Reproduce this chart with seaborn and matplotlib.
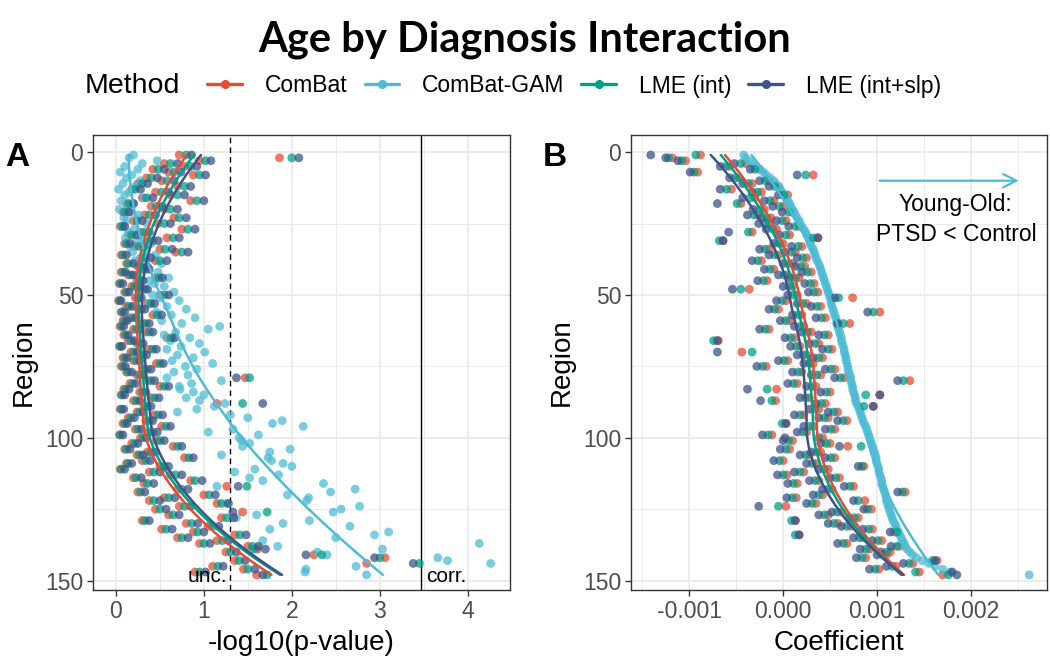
import numpy as np
import pandas as pd
import seaborn as sns
import matplotlib.pyplot as plt
from matplotlib.lines import Line2D

methods = ["ComBat", "ComBat-GAM", "LME (int)", "LME (int+slp)"]
colors = ["#E64B35", "#4DBBD5", "#00A087", "#3C5488"]
palette = dict(zip(methods, colors))
region = np.arange(1, 149)

# panel A: -log10(p-value) per region
combat_p = [0.72, 1.86, 0.95, 0.55, 0.78, 0.42, 0.60, 0.88, 0.35, 0.52,
            0.25, 0.70, 0.18, 0.45, 0.62, 0.30, 0.85, 0.12, 0.40, 0.55,
            0.08, 0.33, 0.66, 0.20, 0.48, 0.05, 0.75, 0.28, 0.15, 0.58,
            0.38, 0.10, 0.22, 0.50, 0.68, 0.06, 0.30, 0.45, 0.12, 0.25,
            0.30, 0.06, 0.14, 0.45, 0.24, 0.04, 0.18, 0.28, 0.10, 0.50,
            0.22, 0.03, 0.36, 0.12, 0.26, 0.06, 0.42, 0.16, 0.08, 0.30,
            0.05, 0.20, 0.34, 0.09, 0.58, 0.14, 0.24, 0.04, 0.38, 0.17,
            0.28, 0.08, 0.20, 0.46, 0.06, 0.32, 0.12, 0.24, 1.47, 0.36,
            0.16, 0.50, 0.09, 0.27, 0.06, 0.40, 0.20, 1.15, 0.32, 0.05,
            0.24, 0.44, 0.14, 0.34, 0.08, 0.52, 0.22, 0.38, 0.04, 0.28,
            0.46, 0.18, 0.65, 0.10, 0.36, 0.24, 0.78, 0.30, 0.12, 0.50,
            0.05, 0.38, 0.62, 0.20, 0.85, 0.32, 1.26, 0.70, 0.25, 1.00,
            0.55, 0.38, 1.15, 0.72, 0.45, 1.44, 0.60, 1.20, 0.30, 0.80,
            1.05, 0.52, 0.88, 1.35, 0.70, 1.15, 0.95, 1.50, 1.61, 1.25,
            2.25, 3.06, 1.35, 2.85, 1.10, 1.45, 0.90, 1.60]
gam_p = [0.20, 0.15, 0.47, 0.30, 0.10, 0.25, 0.05, 0.18, 0.12, 0.28,
         0.08, 0.22, 0.03, 0.15, 0.10, 0.32, 0.06, 0.20, 0.13, 0.04,
         0.17, 0.26, 0.09, 0.12, 0.35, 0.07, 0.21, 0.14, 0.30, 0.11,
         0.24, 0.40, 0.16, 0.33, 0.19, 0.45, 0.28, 0.22, 0.52, 0.36,
         0.30, 0.48, 0.25, 0.60, 0.38, 0.44, 0.55, 0.34, 0.66, 0.42,
         0.50, 0.72, 0.38, 0.58, 0.80, 0.46, 0.63, 0.90, 0.52, 0.75,
         1.18, 1.05, 0.68, 0.55, 0.84, 0.62, 0.95, 0.74, 0.58, 1.01,
         0.70, 0.88, 0.64, 1.10, 0.79, 0.92, 0.66, 0.82, 0.58, 1.20,
         0.86, 0.72, 0.73, 0.88, 1.00, 0.80, 0.95, 1.24, 1.12, 0.92,
         0.70, 1.30, 1.50, 1.89, 1.78, 2.13, 1.33, 1.05, 1.62, 1.40,
         1.43, 1.52, 1.44, 1.98, 1.75, 1.20, 1.73, 1.77, 1.90, 2.00,
         1.58, 1.35, 1.85, 1.52, 1.67, 2.36, 1.15, 2.72, 2.44, 1.95,
         2.19, 2.17, 1.26, 2.77, 2.56, 2.47, 1.60, 1.37, 2.20, 1.90,
         2.66, 1.75, 3.10, 2.94, 2.50, 1.67, 4.13, 1.84, 3.03, 2.29,
         2.40, 3.66, 3.77, 4.26, 2.73, 2.16, 2.15, 2.85]
lme_int_p = [0.80, 2.00, 1.02, 0.62, 0.85, 0.48, 0.66, 0.95, 0.40, 0.58,
             0.30, 0.78, 0.22, 0.52, 0.70, 0.35, 0.92, 0.15, 0.46, 0.62,
             0.10, 0.38, 0.72, 0.24, 0.55, 0.07, 0.82, 0.32, 0.18, 0.65,
             0.42, 0.12, 0.26, 0.56, 0.75, 0.08, 0.34, 0.50, 0.14, 0.28,
             0.34, 0.08, 0.17, 0.49, 0.27, 0.05, 0.21, 0.32, 0.12, 0.55,
             0.25, 0.04, 0.40, 0.15, 0.29, 0.07, 0.47, 0.19, 0.10, 0.34,
             0.06, 0.23, 0.38, 0.11, 0.63, 0.17, 0.27, 0.05, 0.42, 0.20,
             0.31, 0.10, 0.23, 0.50, 0.08, 0.36, 0.14, 0.27, 1.52, 0.40,
             0.19, 0.55, 0.11, 0.30, 0.07, 0.44, 0.23, 1.44, 0.36, 0.06,
             0.27, 0.48, 0.17, 0.38, 0.10, 0.57, 0.25, 0.42, 0.05, 0.31,
             0.50, 0.21, 0.70, 0.12, 0.40, 0.27, 0.83, 0.34, 0.14, 0.55,
             0.06, 0.43, 0.68, 0.23, 0.90, 0.36, 1.49, 0.75, 0.28, 1.06,
             0.60, 0.43, 1.20, 0.78, 0.50, 1.72, 0.65, 1.26, 0.33, 0.86,
             1.10, 0.57, 0.93, 1.41, 0.75, 1.21, 1.00, 1.55, 1.57, 1.30,
             2.34, 3.00, 1.40, 3.45, 1.16, 1.50, 0.95, 1.72]
lme_slp_p = [0.86, 2.08, 1.08, 0.70, 0.92, 0.55, 0.74, 1.02, 0.47, 0.66,
             0.36, 0.85, 0.28, 0.60, 0.78, 0.42, 1.00, 0.20, 0.53, 0.70,
             0.15, 0.45, 0.80, 0.30, 0.62, 0.10, 0.90, 0.38, 0.24, 0.72,
             0.48, 0.16, 0.32, 0.64, 0.82, 0.12, 0.40, 0.58, 0.20, 0.35,
             0.38, 0.11, 0.20, 0.53, 0.31, 0.08, 0.25, 0.36, 0.15, 0.60,
             0.29, 0.06, 0.44, 0.19, 0.33, 0.10, 0.52, 0.23, 0.13, 0.38,
             0.09, 0.27, 0.42, 0.14, 0.67, 0.21, 0.31, 0.07, 0.46, 0.24,
             0.35, 0.13, 0.27, 0.54, 0.11, 0.40, 0.18, 0.31, 1.37, 0.44,
             0.23, 0.60, 0.15, 0.34, 0.10, 0.49, 0.27, 1.67, 0.40, 0.09,
             0.31, 0.53, 0.21, 0.42, 0.13, 0.62, 0.29, 0.47, 0.08, 0.35,
             0.55, 0.25, 0.75, 0.16, 0.45, 0.31, 0.88, 0.39, 0.18, 0.60,
             0.10, 0.50, 0.75, 0.29, 0.98, 0.43, 1.39, 0.82, 0.33, 1.13,
             0.67, 0.50, 1.28, 0.85, 0.57, 1.33, 0.72, 1.34, 0.38, 0.93,
             1.17, 0.64, 1.00, 1.48, 0.82, 1.28, 1.07, 1.62, 1.70, 1.37,
             2.16, 2.94, 1.47, 3.38, 1.22, 1.58, 1.02, 1.67]

# panel B: coefficient per region, in units of 1e-3
combat_b = [-0.88, -1.18, -1.04, -0.40, -0.57, -0.25, -0.91, 0.32, -0.47, -0.15,
            -0.33, -0.05, -0.55, -0.23, 0.05, -0.30, -0.10, -0.45, 0.00, -0.20,
            0.10, -0.27, -0.13, 0.03, -0.15, 0.17, -0.07, -0.33, 0.07, 0.37,
            -0.64, 0.00, 0.20, -0.15, 0.13, -0.05, 0.25, -0.23, 0.10, 0.23,
            -0.10, 0.30, 0.05, 0.17, -0.17, 0.33, 0.10, -0.36, 0.37, 0.15,
            0.74, 0.03, 0.25, 0.40, -0.05, 1.03, 0.20, 0.45, 0.07, 0.71,
            0.22, -0.15, 0.30, 0.48, 0.12, -0.69, 0.38, 0.18, 0.52, -0.44,
            0.25, 0.42, 0.05, 0.32, -0.18, 0.55, 0.20, 0.40, 0.65, 1.35,
            0.15, 0.35, -0.07, 0.50, 1.03, 0.28, -0.08, 0.45, 0.96, 0.38,
            0.58, 0.22, 0.48, 0.68, 0.03, 0.32, 0.55, 0.25, -0.12, 0.42,
            0.10, 0.50, 0.69, 0.07, 0.40, 0.28, 0.55, 0.00, 0.35, 0.86,
            0.48, 0.22, 0.04, 0.60, 0.38, 0.15, 0.75, 0.52, 1.30, 0.42,
            0.14, 0.87, 0.35, 0.03, 0.94, 0.62, 0.48, 0.80, 0.13, 0.58,
            0.72, 0.95, 1.18, 0.17, 0.85, 1.05, 0.68, 1.24, 0.92, 1.14,
            1.10, 0.88, 1.64, 1.38, 1.20, 1.02, 1.45, 1.70]
gam_b = [-0.42, -0.40, -0.36, -0.33, -0.30, -0.25, -0.21, -0.18, -0.14, -0.10,
         -0.08, -0.05, -0.03, -0.01, 0.01, 0.03, 0.05, 0.07, 0.08, 0.10,
         0.12, 0.13, 0.15, 0.17, 0.18, 0.20, 0.22, 0.24, 0.25, 0.27,
         0.28, 0.29, 0.30, 0.32, 0.33, 0.34, 0.35, 0.36, 0.38, 0.39,
         0.40, 0.41, 0.42, 0.43, 0.44, 0.45, 0.46, 0.47, 0.48, 0.49,
         0.50, 0.51, 0.51, 0.52, 0.53, 0.54, 0.55, 0.56, 0.57, 0.57,
         0.58, 0.59, 0.60, 0.61, 0.62, 0.62, 0.63, 0.64, 0.65, 0.65,
         0.66, 0.67, 0.67, 0.68, 0.69, 0.69, 0.70, 0.71, 0.72, 0.72,
         0.73, 0.74, 0.74, 0.75, 0.76, 0.77, 0.77, 0.78, 0.80, 0.81,
         0.82, 0.83, 0.84, 0.85, 0.86, 0.88, 0.89, 0.90, 0.91, 0.92,
         0.93, 0.94, 0.95, 0.96, 0.97, 0.98, 0.99, 0.99, 1.00, 1.01,
         1.02, 1.02, 1.03, 1.04, 1.05, 1.05, 1.06, 1.07, 1.08, 1.09,
         1.10, 1.10, 1.11, 1.12, 1.13, 1.14, 1.15, 1.16, 1.17, 1.19,
         1.20, 1.21, 1.23, 1.24, 1.26, 1.27, 1.29, 1.30, 1.32, 1.35,
         1.38, 1.42, 1.48, 1.55, 1.62, 1.70, 1.78, 2.62]
lme_int_b = [-0.93, -1.22, -1.08, -0.45, -0.61, -0.30, -0.95, 0.24, -0.51, -0.19,
             -0.37, -0.09, -0.60, -0.27, 0.01, -0.35, -0.14, -0.49, -0.04, -0.25,
             0.06, -0.31, -0.17, -0.01, -0.19, 0.13, -0.11, -0.37, 0.03, 0.32,
             -0.68, -0.04, 0.16, -0.19, 0.09, -0.09, 0.21, -0.27, 0.06, 0.19,
             -0.14, 0.26, 0.01, 0.13, -0.21, 0.29, 0.06, -0.45, 0.33, 0.11,
             0.59, -0.01, 0.21, 0.36, -0.09, 0.96, 0.16, 0.41, 0.03, 0.64,
             0.18, -0.19, 0.26, 0.44, 0.08, -0.74, 0.34, 0.14, 0.48, -0.33,
             0.21, 0.38, 0.01, 0.28, -0.22, 0.51, 0.16, 0.36, 0.61, 1.28,
             0.11, 0.31, -0.17, 0.46, 0.88, 0.24, -0.12, 0.41, 0.86, 0.34,
             0.54, 0.18, 0.44, 0.64, -0.01, 0.28, 0.51, 0.21, -0.16, 0.38,
             0.06, 0.46, 0.83, 0.03, 0.36, 0.24, 0.51, -0.04, 0.31, 0.84,
             0.44, 0.18, 0.00, 0.56, 0.34, 0.11, 0.71, 0.48, 1.27, 0.38,
             0.10, 0.80, 0.31, -0.05, 0.90, 0.58, 0.44, 0.76, 0.09, 0.54,
             0.68, 0.91, 1.21, 0.13, 0.81, 1.01, 0.64, 1.21, 0.88, 1.10,
             1.06, 0.84, 1.59, 1.34, 1.16, 0.98, 1.41, 1.76]
lme_slp_b = [-1.41, -1.25, -1.12, -0.52, -0.67, -0.35, -0.99, 0.15, -0.57, -0.25,
             -0.43, -0.15, -0.67, -0.33, -0.05, -0.43, -0.20, -0.70, -0.11, -0.32,
             -0.01, -0.38, -0.23, -0.07, -0.26, 0.06, -0.18, -0.58, -0.04, 0.37,
             -0.64, -0.10, 0.09, -0.25, 0.02, -0.15, 0.15, -0.33, 0.00, 0.13,
             -0.20, 0.20, -0.05, 0.07, -0.27, 0.23, 0.00, -0.54, 0.27, 0.05,
             0.55, -0.07, 0.15, 0.30, -0.15, 0.90, 0.10, 0.35, -0.03, 0.58,
             0.12, -0.25, 0.20, 0.38, 0.02, -0.70, 0.28, 0.08, 0.42, -0.70,
             0.15, 0.32, -0.05, 0.22, -0.28, 0.45, 0.10, 0.30, 0.55, 1.22,
             0.05, 0.25, -0.38, 0.40, 1.03, 0.18, -0.24, 0.35, 0.96, 0.28,
             0.48, 0.12, 0.38, 0.58, 0.03, 0.22, 0.45, 0.15, -0.22, 0.02,
             0.00, 0.40, 0.60, -0.03, 0.30, 0.18, 0.45, -0.10, 0.25, 0.80,
             0.38, 0.12, -0.06, 0.50, 0.28, 0.05, 0.65, 0.42, 1.22, 0.32,
             0.04, 0.75, 0.25, -0.26, 0.86, 0.52, 0.38, 0.70, 0.13, 0.48,
             0.62, 0.85, 1.14, 0.17, 0.75, 0.95, 0.58, 1.15, 0.82, 1.04,
             1.00, 0.78, 1.62, 1.28, 1.10, 0.92, 1.80, 1.85]


def loess(x, y, grid, span=0.75):
    # local quadratic fit with tricube weights (like R's loess default)
    k = int(np.ceil(span * len(x)))
    out = []
    for g in grid:
        d = np.abs(x - g)
        h = np.sort(d)[k - 1]
        w = np.clip(1 - (d / h) ** 3, 0, None) ** 3
        coef = np.polyfit(x, y, 2, w=np.sqrt(w))
        out.append(np.polyval(coef, g))
    return np.array(out)


def long_frame(series, scale=1.0):
    return pd.DataFrame({
        "region": np.tile(region, len(methods)),
        "value": np.concatenate([np.asarray(s) * scale for s in series]),
        "Method": np.repeat(methods, len(region)),
    })


def smooth_frame(df):
    grid = np.linspace(region.min(), region.max(), 80)
    parts = []
    for m in methods:
        sub = df[df.Method == m]
        parts.append(pd.DataFrame({"region": grid,
                                   "value": loess(sub.region.values.astype(float), sub.value.values, grid),
                                   "Method": m}))
    return pd.concat(parts)


df_a = long_frame([combat_p, gam_p, lme_int_p, lme_slp_p])
df_b = long_frame([combat_b, gam_b, lme_int_b, lme_slp_b], 1e-3)

sns.set_theme(style="ticks")
plt.rcParams["font.family"] = ["Liberation Sans", "DejaVu Sans"]
plt.rcParams["text.color"] = "black"
plt.rcParams["axes.labelcolor"] = "black"

fig = plt.figure(figsize=(10.5, 6.71), dpi=100)
W, H = 1050, 671
axA = fig.add_axes([93 / W, 1 - 590 / H, (510 - 93) / W, (590 - 135) / H])
axB = fig.add_axes([631 / W, 1 - 590 / H, (1047 - 631) / W, (590 - 135) / H])

for ax, df in [(axA, df_a), (axB, df_b)]:
    sns.scatterplot(data=df, x="value", y="region", hue="Method", palette=palette,
                    hue_order=methods, s=40, alpha=0.75, linewidth=0, ax=ax,
                    legend=False, zorder=3)
    sns.lineplot(data=smooth_frame(df), x="value", y="region", hue="Method",
                 palette=palette, hue_order=methods, orient="y", lw=1.8,
                 ax=ax, legend=False, zorder=4)
    ax.set_ylim(153.3, -6)
    ax.set_yticks([0, 50, 100, 150])
    ax.set_yticks([25, 75, 125], minor=True)
    ax.grid(True, which="major", color="#EBEBEB", lw=1.3, zorder=0)
    ax.grid(True, which="minor", color="#EBEBEB", lw=0.7, zorder=0)
    ax.set_axisbelow(True)
    for sp in ax.spines.values():
        sp.set_color("#333333")
        sp.set_linewidth(1.0)
    ax.tick_params(which="major", length=4, width=1, color="#333333",
                   labelsize=16.5, labelcolor="#4D4D4D", pad=3)
    ax.tick_params(which="minor", length=0)
    ax.set_ylabel("Region", fontsize=20, labelpad=6)

# panel A
axA.set_xlim(-0.26, 4.48)
axA.set_xticks([0, 1, 2, 3, 4])
axA.set_xticks([0.5, 1.5, 2.5, 3.5], minor=True)
axA.set_xlabel("-log10(p-value)", fontsize=20, labelpad=5)
axA.axvline(-np.log10(0.05), color="black", ls=(0, (4, 3)), lw=1, zorder=2)
axA.axvline(-np.log10(0.05 / 148), color="black", lw=1, zorder=2)
axA.text(-np.log10(0.05) - 0.04, 148.5, "unc.", ha="right", va="center", fontsize=15)
axA.text(-np.log10(0.05 / 148) + 0.05, 148.5, "corr.", ha="left", va="center", fontsize=15)

# panel B
axB.set_xlim(-1.62e-3, 2.81e-3)
axB.set_xticks([-0.001, 0, 0.001, 0.002])
axB.set_xticklabels(["-0.001", "0.000", "0.001", "0.002"])
axB.set_xticks([-0.0015, -0.0005, 0.0005, 0.0015, 0.0025], minor=True)
axB.set_xlabel("Coefficient", fontsize=20, labelpad=5)
axB.annotate("", xy=(2.54e-3, 10), xytext=(1.0e-3, 10),
             arrowprops=dict(arrowstyle="->", color="#4DBBD5", lw=1.6,
                             mutation_scale=24))
axB.text(1.84e-3, 18.5, "Young-Old:", ha="center", va="center", fontsize=16.5)
axB.text(1.84e-3, 29, "PTSD < Control", ha="center", va="center", fontsize=16.5)

# panel tags
fig.text(5 / W, 1 - 157 / H, "A", fontsize=24, fontweight="bold", va="center")
fig.text(543 / W, 1 - 157 / H, "B", fontsize=24, fontweight="bold", va="center")

# title and legend
fig.text(0.5, 1 - 40 / H, "Age by Diagnosis Interaction", ha="center", va="center",
         fontsize=30, fontweight="bold", family=["Lato", "DejaVu Sans"])
fig.text(85 / W, 1 - 86 / H, "Method", ha="left", va="center", fontsize=20.5)
handles = [Line2D([], [], color=c, lw=2.4, marker="o", ms=5.5) for c in colors]
fig.legend(handles, methods, loc="center left", bbox_to_anchor=(196 / W, 1 - 86 / H),
           ncol=4, frameon=False, fontsize=16.5, handlelength=1.5, borderpad=0,
           handletextpad=1.0, columnspacing=0.75)

fig.savefig("out.png", dpi=100)
